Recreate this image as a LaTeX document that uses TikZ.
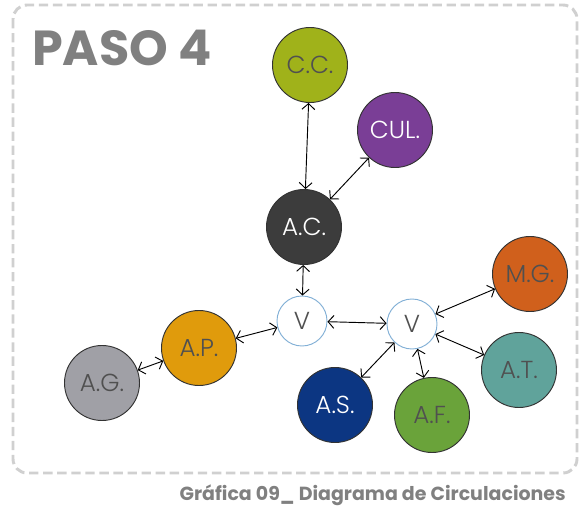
\documentclass[tikz,border=0pt]{standalone}
\usepackage{fontspec}
\setmainfont{Poppins}
\newfontfamily\ligera{Poppins Light}
\usetikzlibrary{arrows.meta}
\definecolor{marco}{RGB}{208,208,208}
\definecolor{titulo}{RGB}{128,128,128}
\definecolor{letra}{RGB}{80,80,80}
\definecolor{borde}{RGB}{51,51,51}
\definecolor{vborde}{RGB}{130,176,214}
\definecolor{olivo}{RGB}{160,178,26}
\definecolor{morado}{RGB}{122,62,150}
\definecolor{carbon}{RGB}{60,60,60}
\definecolor{naranja}{RGB}{208,96,28}
\definecolor{turquesa}{RGB}{96,163,155}
\definecolor{verde}{RGB}{106,163,58}
\definecolor{marino}{RGB}{12,54,130}
\definecolor{ambar}{RGB}{224,155,12}
\definecolor{gris}{RGB}{160,160,166}

\begin{document}
\begin{tikzpicture}[
    x=0.03cm, y=-0.03cm,
    zona/.style={circle, draw=borde, line width=0.8pt, minimum size=2.25cm,
        inner sep=0pt, text=letra, font=\ligera\fontsize{21}{24}\selectfont},
    vnodo/.style={circle, draw=vborde, fill=white, line width=0.8pt,
        minimum size=1.5cm, inner sep=0pt, text=letra,
        font=\ligera\fontsize{21}{24}\selectfont},
    flujo/.style={<->, line width=0.8pt},
    >={Straight Barb[length=5pt,width=11pt]}
]
\useasboundingbox (0,0) rectangle (581,507);
\draw[marco, line width=2.5pt, dash pattern=on 8pt off 4pt, rounded corners=12]
    (13,5) rectangle (577,473);

\node[anchor=base west, text=titulo, inner sep=0pt,
    font=\fontsize{42}{48}\bfseries] (paso) at (32,66) {PASO 4};

% zonas
\node[zona, fill=olivo] (cc) at (310,65) {C.C.};
\node[zona, fill=morado, text=white] (cul) at (395,130) {CUL.};
\node[zona, fill=carbon, text=white] (ac) at (304,227) {A.C.};
\node[vnodo] (v1) at (302,321) {V};
\node[vnodo] (v2) at (412,324) {V};
\node[zona, fill=naranja] (mg) at (530,274) {M.G.};
\node[zona, fill=turquesa] (at) at (519,370) {A.T.};
\node[zona, fill=verde] (af) at (432,415) {A.F.};
\node[zona, fill=marino, text=white] (as) at (335,405) {A.S.};
\node[zona, fill=ambar] (ap) at (199,348) {A.P.};
\node[zona, fill=gris] (ag) at (102,383) {A.G.};

% circulaciones
\draw[flujo] (cc) -- (ac);
\draw[flujo] (cul) -- (ac);
\draw[flujo] (ac) -- (v1);
\draw[flujo] (v1) -- (ap);
\draw[flujo] (ap) -- (ag);
\draw[flujo] (v1) -- (v2);
\draw[flujo] (v2) -- (mg);
\draw[flujo] (v2) -- (at);
\draw[flujo] (v2) -- (af);
\draw[flujo] (v2) -- (as);

\node[anchor=base east, text=titulo, inner sep=0pt,
    font=\fontsize{16.2}{20}\bfseries] (pie) at (566,500)
    {Gráfica 09\_ Diagrama de Circulaciones};
\end{tikzpicture}
\end{document}
